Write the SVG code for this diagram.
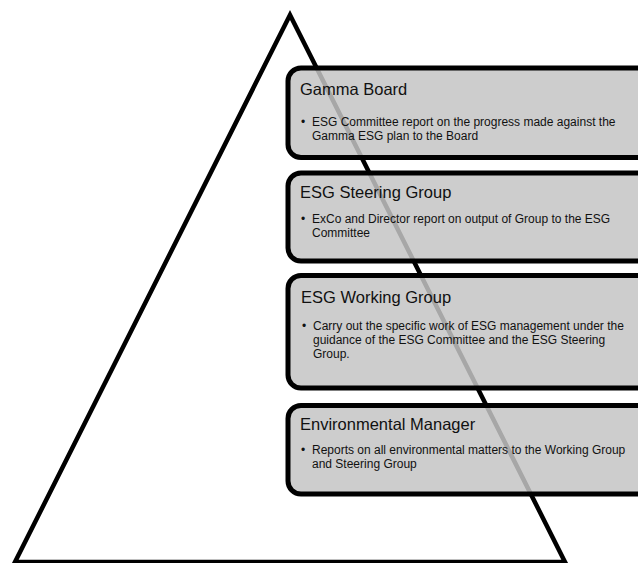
<svg xmlns="http://www.w3.org/2000/svg" width="638" height="563" viewBox="0 0 638 563">
<style>
.box{fill:#c4c4c4;fill-opacity:0.85;stroke:#000;stroke-width:5}
.title{font-family:"Liberation Sans",Arial,sans-serif;font-size:16.5px;fill:#111}
.body{font-family:"Liberation Sans",Arial,sans-serif;font-size:12px;fill:#111}
</style>
<rect width="638" height="563" fill="#fff"/>
<g id="connectors">
<polygon id="pyramid" points="290,15 15,562 565,562" fill="none" stroke="#000" stroke-width="4.5"/>
</g>
<g id="gamma-board">
<rect class="box" x="288" y="68" width="362" height="89.5" rx="13"/>
<text class="title" x="300" y="95">Gamma Board</text>
<text class="body" x="301" y="126">•</text>
<text class="body" x="312" y="126">ESG Committee report on the progress made against the</text>
<text class="body" x="312" y="140">Gamma ESG plan to the Board</text>
</g>
<g id="esg-steering-group">
<rect class="box" x="288" y="173" width="362" height="88" rx="13"/>
<text class="title" x="300" y="198">ESG Steering Group</text>
<text class="body" x="301" y="223">•</text>
<text class="body" x="312" y="223">ExCo and Director report on output of Group to the ESG</text>
<text class="body" x="312" y="237">Committee</text>
</g>
<g id="esg-working-group">
<rect class="box" x="288" y="275.5" width="362" height="112.5" rx="13"/>
<text class="title" x="301" y="303">ESG Working Group</text>
<text class="body" x="302" y="330">•</text>
<text class="body" x="313" y="330">Carry out the specific work of ESG management under the</text>
<text class="body" x="313" y="344">guidance of the ESG Committee and the ESG Steering</text>
<text class="body" x="313" y="358">Group.</text>
</g>
<g id="environmental-manager">
<rect class="box" x="288" y="405.5" width="362" height="88.5" rx="13"/>
<text class="title" x="300" y="430">Environmental Manager</text>
<text class="body" x="301" y="454">•</text>
<text class="body" x="312" y="454">Reports on all environmental matters to the Working Group</text>
<text class="body" x="312" y="468">and Steering Group</text>
</g>
</svg>
